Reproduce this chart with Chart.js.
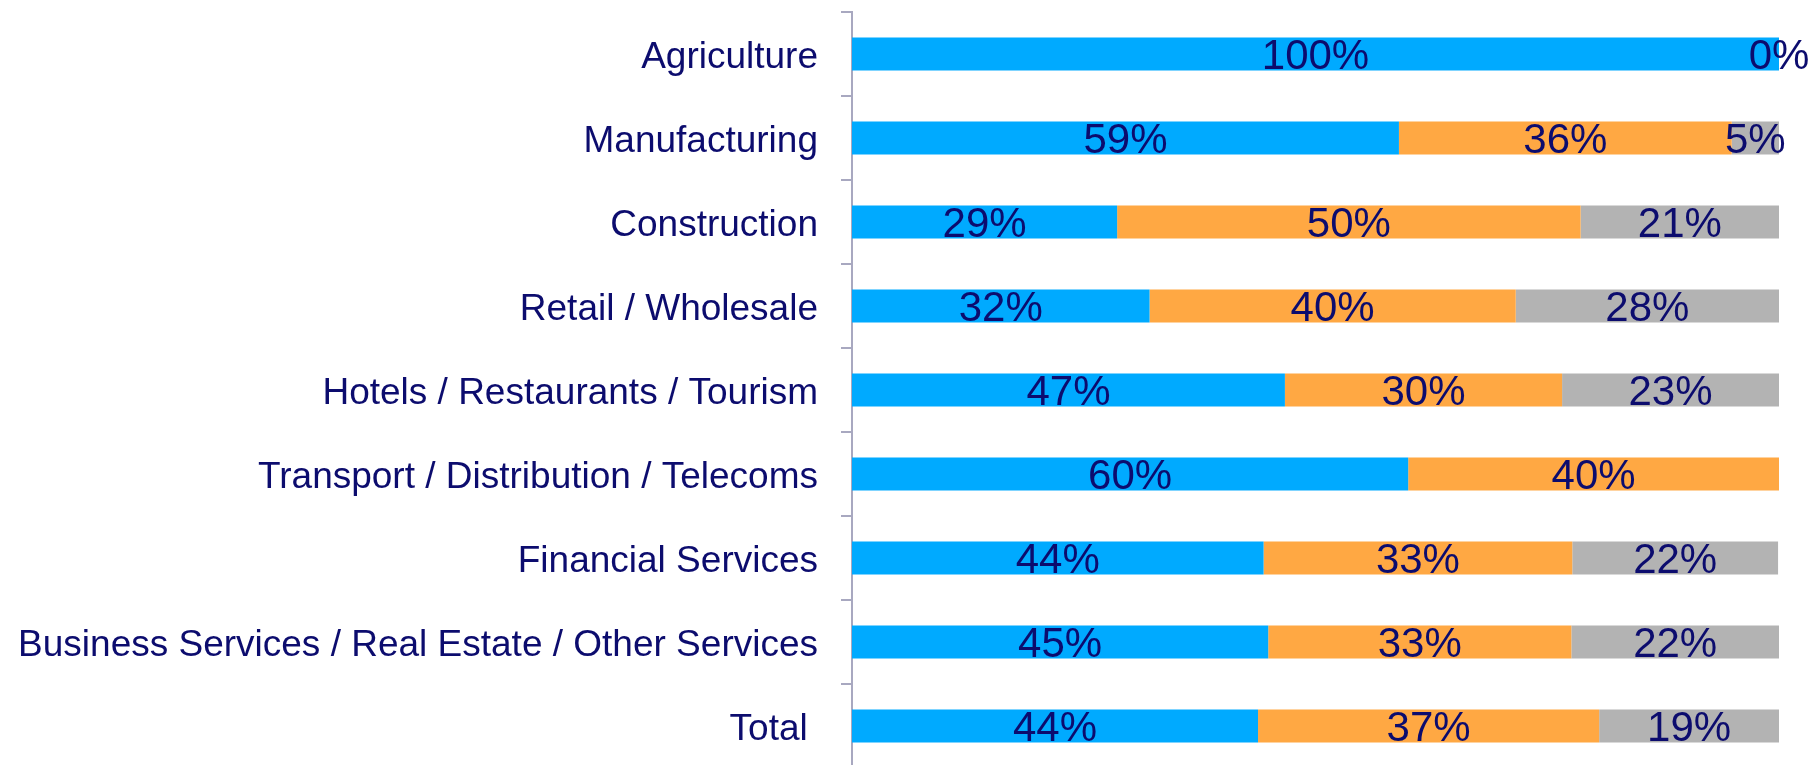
<!DOCTYPE html>
<html>
<head>
<meta charset="utf-8">
<script src="https://cdn.jsdelivr.net/npm/chart.js@4.4.1/dist/chart.umd.min.js"></script>
<style>
  html, body { margin: 0; padding: 0; background: #fff; overflow: hidden; }
  #wrap { width: 1808px; height: 765px; overflow: hidden; }
</style>
</head>
<body>
<div id="wrap"><canvas id="sectorchart" width="1808" height="770"></canvas></div>
<script>
// sectors, top to bottom
var sectors = [
  "Agriculture",
  "Manufacturing",
  "Construction",
  "Retail / Wholesale",
  "Hotels / Restaurants / Tourism",
  "Transport / Distribution / Telecoms",
  "Financial Services",
  "Business Services / Real Estate / Other Services",
  "Total "
];

// shares in % (null = no segment, no label)
var shareBlue   = [100, 59.0, 28.6, 32.1, 46.7, 60.0, 44.4, 44.9, 43.8];
var shareOrange = [0,   35.9, 50.0, 39.5, 29.9, 40.0, 33.3, 32.7, 36.8];
var shareGrey   = [null, 5.1, 21.4, 28.4, 23.4, null, 22.2, 22.4, 19.4];

var navy = "#0c0c6e";
var axisGrey = "#a8a8c0";

//draw the percentage text in the middle of every segment
var segmentLabels = {
  id: "segmentLabels",
  afterDatasetsDraw: function(chart) {
    var ctx = chart.ctx;
    ctx.save();
    ctx.font = "42px 'Liberation Sans', Arial, sans-serif";
    ctx.fillStyle = navy;
    ctx.textAlign = "center";
    ctx.textBaseline = "middle";
    chart.data.datasets.forEach(function(ds, i) {
      var meta = chart.getDatasetMeta(i);
      meta.data.forEach(function(bar, j) {
        var v = ds.data[j];
        if (v === null || v === undefined) return;
        var cx = (bar.x + bar.base) / 2;
        ctx.fillText(Math.round(v) + "%", cx, bar.y + 3);
      });
    });
    ctx.restore();
  }
};

var ctx = document.getElementById("sectorchart").getContext("2d");
var sectorchart = new Chart(ctx, {
  type: "bar",
  data: {
    labels: sectors,
    datasets: [
      { data: shareBlue,   backgroundColor: "#00aaff", borderWidth: 0 },
      { data: shareOrange, backgroundColor: "#ffa843", borderWidth: 0 },
      { data: shareGrey,   backgroundColor: "#b3b3b3", borderWidth: 0 }
    ]
  },
  options: {
    indexAxis: "y",
    responsive: false,
    animation: false,
    layout: { padding: { top: 12, bottom: 2, left: 0, right: 29 } },
    datasets: {
      bar: { categoryPercentage: 1.0, barPercentage: 0.393 }
    },
    plugins: {
      legend: { display: false },
      tooltip: { enabled: false }
    },
    scales: {
      x: {
        stacked: true,
        min: 0,
        max: 100,
        display: false
      },
      y: {
        stacked: true,
        // fixed label column, no extra padding for the edge labels
        afterFit: function(scale) {
          scale.width = 852;
          scale.paddingTop = 0;
          scale.paddingBottom = 0;
        },
        border: { display: true, color: axisGrey, width: 2 },
        grid: {
          offset: true,
          drawOnChartArea: false,
          drawTicks: true,
          tickLength: 11,
          color: axisGrey,
          lineWidth: 2
        },
        ticks: {
          padding: 23,
          labelOffset: 4,
          autoSkip: false,
          color: navy,
          font: { family: "'Liberation Sans', Arial, sans-serif", size: 37 }
        }
      }
    }
  },
  plugins: [segmentLabels]
});
</script>
</body>
</html>
